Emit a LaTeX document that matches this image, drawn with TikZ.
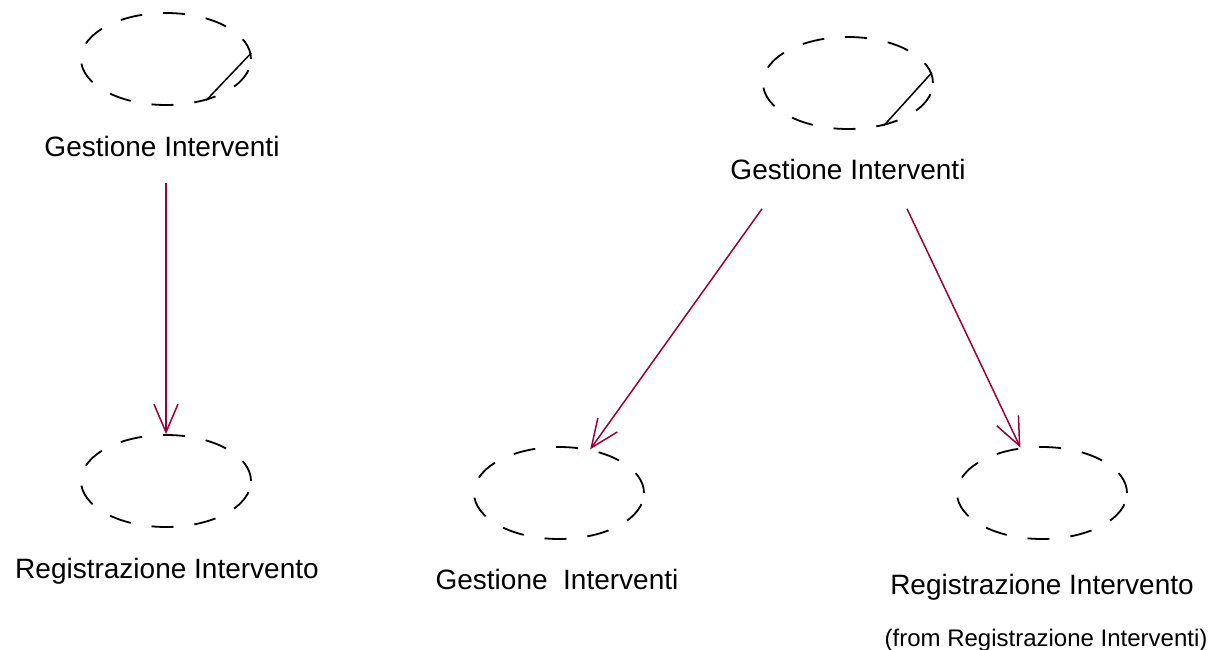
\documentclass[tikz,border=0pt]{standalone}
\usepackage{fontspec}
\setmainfont{Liberation Sans}
\usetikzlibrary{arrows.meta,shapes.geometric}
\definecolor{depred}{RGB}{158,0,60}
\begin{document}
\begin{tikzpicture}[x=1pt, y=-1pt,
        usecase/.style={draw, ellipse, line width=1.8pt, dash pattern=on 22pt off 21pt,
            minimum width=170pt, minimum height=92pt, inner sep=0pt},
        lbl/.style={anchor=base, font=\fontsize{28}{34}\selectfont},
        dep/.style={depred, line width=1.5pt, -{Straight Barb[length=28pt, width=24pt]}}]
    \useasboundingbox (0,0) rectangle (1227,650);
    % left pair
    \node[usecase] (gi1) at (166,59) {};
    \draw[line width=1.5pt] (gi1.4) -- (gi1.-46);
    \node[lbl] (gi1txt) at (162,157) {Gestione Interventi};
    \node[usecase] (ri2) at (166,481) {};
    \node[lbl] (ri2txt) at (167,578) {Registrazione Intervento};
    \draw[dep, shorten <=22pt] (gi1txt.south -| ri2) -- (ri2);
    % right group
    \node[usecase] (gi3) at (848,83) {};
    \draw[line width=1.5pt] (gi3.7) -- (gi3.-50);
    \node[lbl] (gi3txt) at (848,180) {Gestione Interventi};
    \node[usecase] (gi4) at (559,493) {};
    \node[lbl] (gi4txt) at (557,589) {Gestione\ \ Interventi};
    \node[usecase] (ri5) at (1042,493) {};
    \node[lbl] (ri5txt) at (1042,594) {Registrazione Intervento};
    \node[lbl, font=\fontsize{24}{29}\selectfont] (ri5from) at (1046,646) {(from Registrazione Interventi)};
    \draw[dep] ([xshift=-86pt, yshift=-25pt]gi3txt.south) -- (gi4);
    \draw[dep] ([xshift=59pt, yshift=-25pt]gi3txt.south) -- (ri5);
\end{tikzpicture}
\end{document}
